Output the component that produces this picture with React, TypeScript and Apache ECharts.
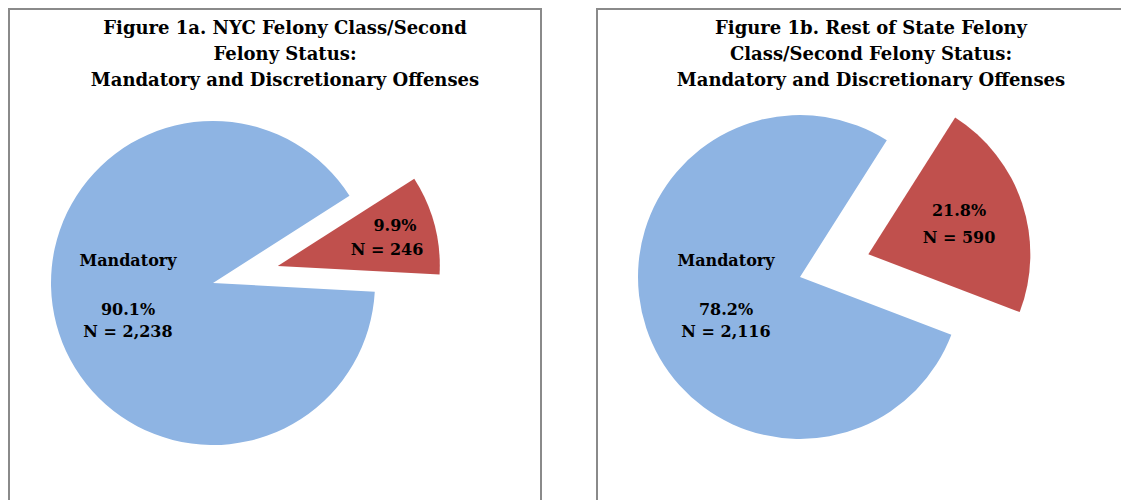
import React, { useEffect, useRef } from "react";
import * as echarts from "echarts";

const categories = ["Discretionary", "Mandatory"];
const nycCounts = [246, 2238];
const restCounts = [590, 2116];
const nycTitle = ["Figure 1a. NYC Felony Class/Second", "Felony Status:", "Mandatory and Discretionary Offenses"];
const restTitle = ["Figure 1b. Rest of State Felony", "Class/Second Felony Status:", "Mandatory and Discretionary Offenses"];

const BLUE = "#8EB4E3";
const RED = "#C0504D";
const FONT = "'DejaVu Serif', 'Liberation Serif', serif";

function pct(counts: number[], i: number) {
  const t = counts.reduce((a, b) => a + b, 0);
  return ((counts[i] / t) * 100).toFixed(1) + "%";
}
function fmtN(v: number) {
  return "N = " + v.toLocaleString("en-US");
}

export default function App() {
  const ref = useRef<HTMLDivElement>(null);
  useEffect(() => {
    if (!ref.current) return;
    const chart = echarts.init(ref.current, null, { renderer: "svg" });
    const mkSeries = (counts: number[], center: number[], startAngle: number, offset: number) => ({
      type: "pie",
      center,
      radius: 162,
      startAngle,
      clockwise: true,
      selectedMode: "single",
      selectedOffset: offset,
      label: { show: false },
      labelLine: { show: false },
      emphasis: { disabled: true },
      data: categories.map((c, i) => ({
        name: c,
        value: counts[i],
        selected: i === 0,
        itemStyle: { color: i === 0 ? RED : BLUE },
      })),
    });
    const titleText = (lines: string[], x: number) =>
      lines.map((l, i) => ({
        type: "text",
        x,
        y: 27 + i * 26,
        z: 100,
        style: {
          text: l,
          font: "bold 18px " + FONT,
          fill: "#000",
          align: "center",
          verticalAlign: "middle",
        },
      }));
    const lbl = (text: string, x: number, y: number) => ({
      type: "text",
      x,
      y,
      z: 100,
      style: {
        text,
        font: "bold 16px " + FONT,
        fill: "#000",
        align: "center",
        verticalAlign: "middle",
      },
    });
    chart.setOption({
      animation: false,
      series: [
        mkSeries(nycCounts, [213, 283], 32.6, 67),
        mkSeries(restCounts, [800, 277], 57.6, 72),
      ],
      graphic: [
        { type: "rect", z: 100, shape: { x: 9, y: 9, width: 532, height: 520 }, style: { fill: "none", stroke: "#8a8a8a", lineWidth: 2 } },
        { type: "rect", z: 100, shape: { x: 597, y: 9, width: 600, height: 520 }, style: { fill: "none", stroke: "#8a8a8a", lineWidth: 2 } },
        ...titleText(nycTitle, 285),
        ...titleText(restTitle, 871),
        lbl(categories[1], 128, 260),
        lbl(pct(nycCounts, 1), 128, 309),
        lbl(fmtN(nycCounts[1]), 128, 331),
        lbl(pct(nycCounts, 0), 395, 225),
        lbl(fmtN(nycCounts[0]), 387, 249),
        lbl(categories[1], 726, 260),
        lbl(pct(restCounts, 1), 726, 309),
        lbl(fmtN(restCounts[1]), 726, 331),
        lbl(pct(restCounts, 0), 959, 210),
        lbl(fmtN(restCounts[0]), 959, 237),
      ],
    });
    return () => chart.dispose();
  }, []);
  return (
    <div
      ref={ref}
      style={{ position: "absolute", left: 0, top: 0, width: 1121, height: 500, background: "#fff" }}
    />
  );
}
